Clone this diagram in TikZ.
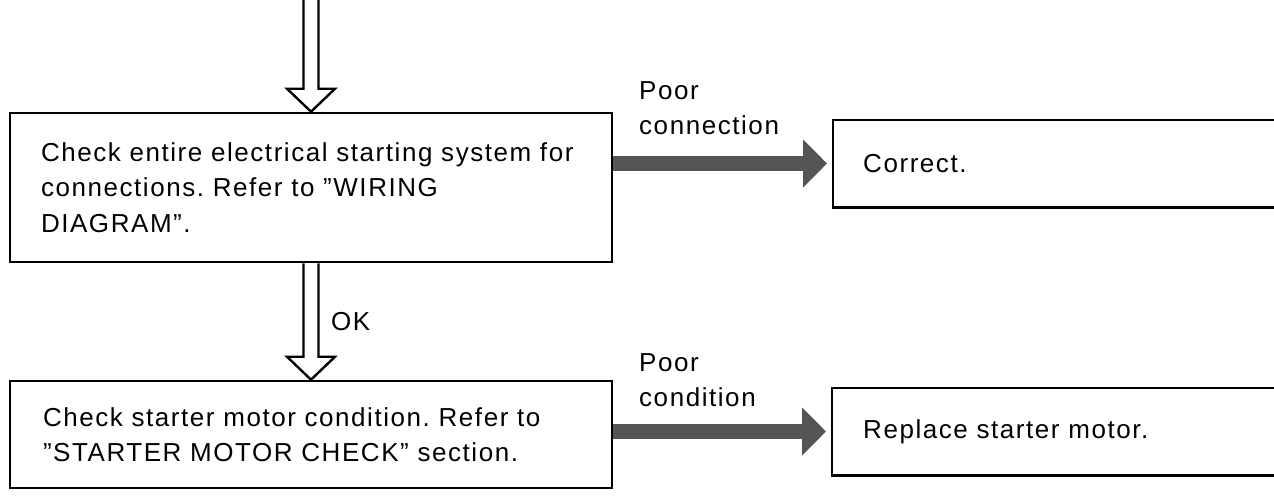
\documentclass[tikz,border=0pt]{standalone}
\usepackage{fontspec}
\newfontfamily\manualfont[LetterSpace=6]{Liberation Sans}
\usetikzlibrary{arrows.meta,positioning,calc}
\definecolor{Sc}{HTML}{555555}
\tikzset{
  txt/.style={font=\manualfont\fontsize{26}{35.5}\selectfont\frenchspacing},
  box/.style={txt, draw=black, line width=2.6pt, rectangle, align=left, inner ysep=0pt},
  res/.style={txt, align=left, inner ysep=0pt, minimum height=87pt, anchor=west},
  lbl/.style={txt, align=left, inner sep=0pt, anchor=west},
  flow/.style={draw=Sc, line width=15pt, -{Triangle[width=47pt,length=24pt]}, shorten >=6pt},
  hollow/.style={line width=2.4pt, line join=miter},
  open/.style={line width=2.6pt},
}
% hollow down arrow from #1 to tip #2 (same x)
\newcommand{\hollowdown}[2]{%
  \draw[hollow] ($(#1)+(-7.5,0)$) -- ($(#2)+(-7.5,-23)$) -- ($(#2)+(-24,-23)$) -- (#2)
    -- ($(#2)+(24,-23)$) -- ($(#2)+(7.5,-23)$) -- ($(#1)+(7.5,0)$);}

\begin{document}
\begin{tikzpicture}[x=1pt,y=-1pt]
  \useasboundingbox (0,0) rectangle (1274,499);
  \coordinate (entry) at (311,-2);
  \coordinate (edge) at (1280,0);
  % check steps
  \node[box, text width=540pt, inner xsep=31pt, minimum height=149pt] (wiring) at (311,187.5)
    {Check entire electrical starting system for\\ connections. Refer to ”WIRING\\ DIAGRAM”.};
  \node[box, text width=536pt, inner xsep=33pt, minimum height=107pt] (motor) at (311,434.5)
    {Check starter motor condition. Refer to\\ ”STARTER MOTOR CHECK” section.};
  % results, open on the right
  \node[res, text width=381pt, inner xsep=30pt] (fix) at (833,163.5) {Correct.};
  \node[res, text width=380pt, inner xsep=31pt] (swap) at (832,431.5) {Replace starter motor.};
  \draw[open] (fix.north west -| edge) -- (fix.north west) -- (fix.south west) -- (fix.south west -| edge);
  \draw[open] (swap.north west -| edge) -- (swap.north west) -- (swap.south west) -- (swap.south west -| edge);
  % flow
  \hollowdown{entry}{wiring.north}
  \hollowdown{wiring.south}{motor.north}
  \draw[flow] (wiring.east |- fix.west) -- (fix.west);
  \draw[flow] (motor.east |- swap.west) -- (swap.west);
  \node[lbl] (poorconn) at (639,108) {Poor\\ connection};
  \node[lbl] (poorcond) at (639,380) {Poor\\ condition};
  \node[lbl] (ok) at (331,322) {OK};
\end{tikzpicture}
\end{document}
